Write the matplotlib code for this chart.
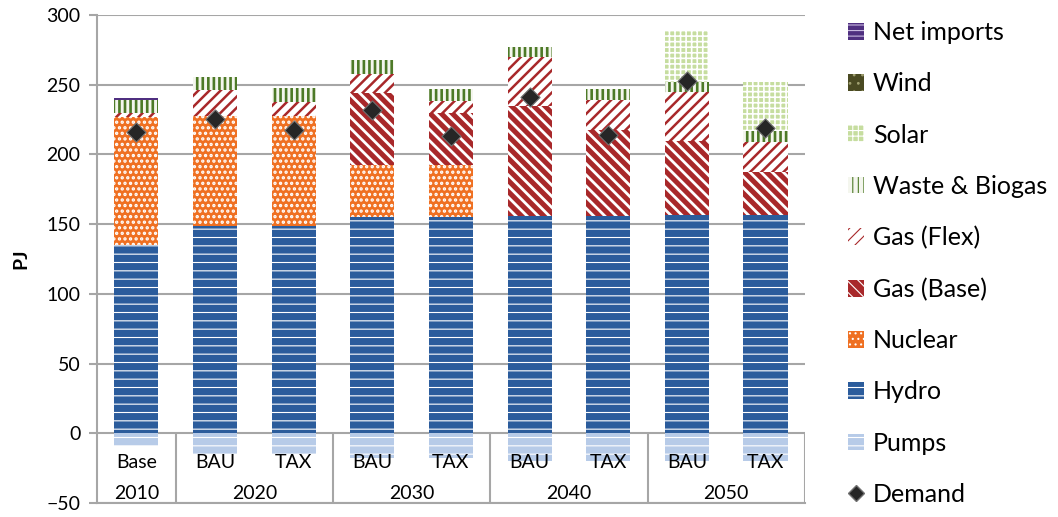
import numpy as np
import matplotlib
matplotlib.use('Agg')
import matplotlib.pyplot as plt
from matplotlib.patches import Patch
from matplotlib.lines import Line2D

plt.rcParams.update({
    'font.family': ['Lato', 'DejaVu Sans'],
    'font.size': 13,
})

# data (PJ)
scenarios = ['Base', 'BAU', 'TAX', 'BAU', 'TAX', 'BAU', 'TAX', 'BAU', 'TAX']
years = ['2010', '2020', '2030', '2040', '2050']
bars_per_year = [1, 2, 2, 2, 2]

pumps = [-9, -15, -15, -18, -18, -20, -20, -20, -20]
hydro = [135, 149, 149, 155.4, 155.4, 156, 156, 156.6, 156.6]
nuclear = [91.7, 78.6, 78.6, 37.1, 37.1, 0, 0, 0, 0]
gas_base = [0, 0, 0, 51.5, 37.5, 78.4, 61.6, 53.1, 31.1]
gas_flex = [2.9, 18.7, 10.3, 14.0, 8.0, 35.4, 21.5, 35.4, 21.5]
waste_biogas = [9.5, 9.5, 9.6, 9.8, 8.8, 7.6, 8.0, 7.1, 7.7]
solar = [0, 0, 0, 0, 0, 0, 0, 37.3, 35.3]
wind = [0, 0, 0, 0, 0, 0, 0, 0, 0]
net_imports = [1.6, 0, 0, 0, 0, 0, 0, 0, 0]
demand = [215.9, 225.5, 217.6, 231.8, 213.5, 241.5, 214.0, 252.7, 218.8]

# face colour, hatch colour, hatch, hatch linewidth
styles = {
    'Pumps': ('#b7cbe8', 'white', '--', 0.8),
    'Hydro': ('#2b5c9c', 'white', '--', 0.8),
    'Nuclear': ('#ef7022', 'white', '...', 1.6),
    'Gas (Base)': ('#a8282a', 'white', '\\\\\\', 2.0),
    'Gas (Flex)': ('white', '#a8282a', '///', 1.8),
    'Waste & Biogas': ('#f4f6ee', '#4d7a27', '|||', 1.9),
    'Solar': ('#c6dd9f', 'white', '+++', 1.2),
    'Wind': ('#4a4a22', '#a0a070', '..', 1.0),
    'Net imports': ('#4f2f80', '#c8b8e0', '---', 0.8),
}

stack = [
    ('Hydro', hydro),
    ('Nuclear', nuclear),
    ('Gas (Base)', gas_base),
    ('Gas (Flex)', gas_flex),
    ('Waste & Biogas', waste_biogas),
    ('Solar', solar),
    ('Wind', wind),
    ('Net imports', net_imports),
]

fig = plt.figure(figsize=(10.58, 5.17), dpi=100)
ax = fig.add_axes([0.0917, 0.027, 0.669, 0.944])

x = np.arange(len(scenarios))
width = 0.56


def draw_layer(vals, bottom, name):
    face, hcol, hatch, hlw = styles[name]
    plt.rcParams['hatch.linewidth'] = hlw
    bars = ax.bar(x, vals, width, bottom=bottom, color=face, edgecolor=hcol,
                  hatch=hatch, linewidth=0, zorder=2)
    for b in bars:
        if hasattr(b, 'set_hatch_linewidth'):
            b.set_hatch_linewidth(hlw)
    return bars


draw_layer(pumps, 0, 'Pumps')
bottom = np.zeros(len(x))
for name, vals in stack:
    draw_layer(vals, bottom, name)
    bottom += np.array(vals)

ax.scatter(x, demand, marker='D', s=95, color='#262626', edgecolor='#707070',
           linewidth=0.8, zorder=5)

ax.set_xlim(-0.5, len(x) - 0.5)
ax.set_ylim(-50, 300)
ax.set_yticks(np.arange(-50, 301, 50))
ax.yaxis.grid(True, color='#a6a6a6', linewidth=1.5)
ax.set_axisbelow(True)
ax.set_xticks([])
ax.tick_params(axis='y', length=6, width=1.5, color='#a6a6a6', pad=6,
               labelsize=14)
for s in ['top', 'right']:
    ax.spines[s].set_visible(False)
for s in ['left', 'bottom']:
    ax.spines[s].set_color('#a6a6a6')
    ax.spines[s].set_linewidth(1.5)
ax.set_ylabel('PJ', fontweight='bold', fontsize=14, labelpad=12)

# category table under the zero line
for xi, lab in zip(x, scenarios):
    ax.text(xi, -21, lab, ha='center', va='center', fontsize=14, zorder=6)
start = 0
edges = [-0.5]
for yr, cnt in zip(years, bars_per_year):
    ax.text(start + (cnt - 1) / 2, -43, yr, ha='center', va='center',
            fontsize=14, zorder=6)
    start += cnt
    edges.append(start - 0.5)
ax.vlines(edges[1:], -50, 0, color='#a6a6a6', linewidth=1.5, zorder=1)

# legend
handles = []
labels = []
for name in ['Net imports', 'Wind', 'Solar', 'Waste & Biogas', 'Gas (Flex)',
             'Gas (Base)', 'Nuclear', 'Hydro', 'Pumps']:
    face, hcol, hatch, hlw = styles[name]
    p = Patch(facecolor=face, edgecolor=hcol, hatch=hatch, linewidth=0)
    if hasattr(p, 'set_hatch_linewidth'):
        p.set_hatch_linewidth(hlw)
    handles.append(p)
    labels.append(name)
handles.append(Line2D([], [], marker='D', color='#262626', markeredgecolor='#707070',
                      linestyle='None', markersize=8))
labels.append('Demand')
fig.legend(handles=handles, labels=labels, loc='upper left',
           bbox_to_anchor=(0.785, 0.993), frameon=False, fontsize=18,
           handlelength=0.65, handleheight=0.65, handletextpad=0.35,
           labelspacing=1.13, borderaxespad=0.3)

plt.savefig('out.png', dpi=100)
